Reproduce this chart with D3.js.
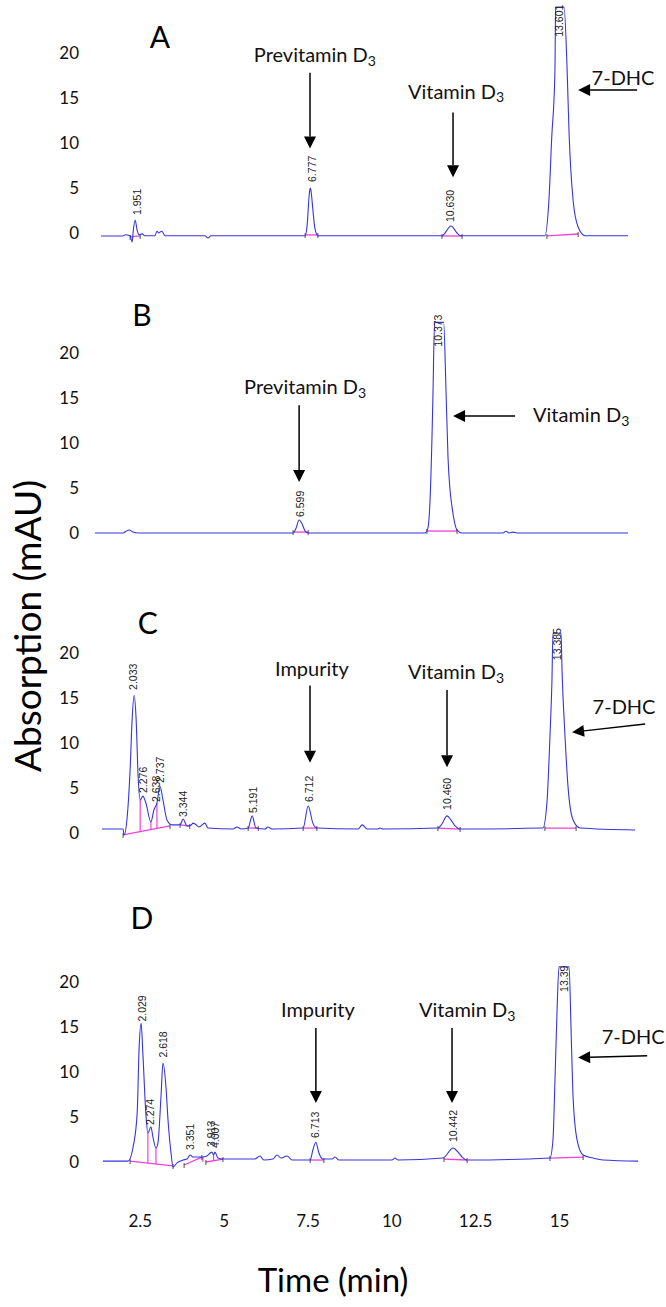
<!DOCTYPE html>
<html><head><meta charset="utf-8">
<script src="https://cdn.jsdelivr.net/npm/d3@7"></script>
<style>body{margin:0;background:#fff} svg{display:block}</style>
</head><body>
<script>
// ---------- DATA ----------
const xTicks = [2.5, 5, 7.5, 10, 12.5, 15];
const yTicks = [0, 5, 10, 15, 20];
const panelNames = ["A", "B", "C", "D"];

// chromatogram traces: [time (min, axis units), absorbance (mAU)]
const traceA = [[1.34,-0.33],[2.00,-0.33],[2.06,-0.2],[2.21,-0.3],[2.27,-1.0],[2.30,0.1],[2.36,1.45],[2.42,0.3],[2.48,-0.2],[2.57,-0.1],[2.65,-0.3],[2.95,-0.3],[3.01,0.2],[3.07,0.0],[3.10,0.1],[3.16,0.2],[3.25,-0.3],[4.44,-0.3],[4.53,-0.55],[4.62,-0.3],[7.43,-0.3],[7.49,0.9],[7.55,4.2],[7.58,5.0],[7.60,4.8],[7.66,2.6],[7.72,0.55],[7.81,-0.3],[11.51,-0.3],[11.78,0.78],[11.96,0],[12.05,-0.3],[14.58,-0.3],[14.70,3.67],[14.79,11.1],[14.85,14.8],[14.88,18.4],[14.89,22.2],[14.90,25.1],[15.15,25.1],[15.24,18.4],[15.30,11.1],[15.42,3.67],[15.57,0.67],[15.78,-0.3],[17.06,-0.3]];
const traceB = [[1.16,0],[2.00,0],[2.09,0.2],[2.18,0.33],[2.30,0.1],[2.45,0],[7.07,0],[7.16,0.55],[7.25,1.45],[7.34,1.0],[7.43,0.2],[7.52,0],[11.00,0],[11.09,0.55],[11.15,3.3],[11.21,10.3],[11.24,15.1],[11.29,23.4],[11.56,23.4],[11.63,15.9],[11.69,8.4],[11.75,4.8],[11.81,2.9],[11.96,0.33],[12.11,0],[13.33,0],[13.42,0.2],[13.51,0],[13.63,0.1],[13.75,0],[17.06,0]];
const traceC = [[1.37,0.44],[2.00,0.44],[2.03,-0.22],[2.12,1.67],[2.21,7.0],[2.27,12.6],[2.33,15.3],[2.39,12.6],[2.45,6.2],[2.51,3.67],[2.59,4.1],[2.68,3.33],[2.83,1.22],[2.92,2.56],[3.01,3.33],[3.10,5.2],[3.19,3.67],[3.31,1.44],[3.46,0.9],[3.70,0.9],[3.79,1.55],[3.91,0.78],[4.03,0.9],[4.09,1.1],[4.15,1.0],[4.26,0.67],[4.44,1.1],[4.53,0.55],[5.28,0.44],[5.40,0.67],[5.52,0.44],[5.73,0.55],[5.85,1.9],[5.96,0.55],[6.23,0.44],[6.32,0.67],[6.44,0.44],[7.37,0.55],[7.52,3.0],[7.66,1.1],[7.78,0.55],[9.01,0.44],[9.13,0.9],[9.28,0.44],[9.60,0.44],[9.66,0.55],[9.75,0.44],[11.39,0.55],[11.51,1.0],[11.66,1.9],[11.78,1.44],[11.90,0.78],[12.05,0.44],[14.52,0.55],[14.64,3.33],[14.73,10.7],[14.79,17.0],[14.82,22.2],[15.06,22.2],[15.09,18.1],[15.18,10.7],[15.27,5.1],[15.42,1.44],[15.63,0.55],[17.27,0.33]];
const traceD = [[1.40,0.1],[2.15,0.1],[2.30,1.67],[2.42,5.4],[2.48,12.8],[2.54,15.4],[2.59,12.1],[2.68,5.4],[2.74,3.2],[2.83,3.9],[2.89,2.8],[2.98,1.55],[3.04,2.1],[3.13,7.2],[3.19,11.0],[3.28,8.3],[3.34,4.7],[3.43,1.0],[3.49,-0.55],[3.61,-0.1],[3.79,0.22],[3.91,0.33],[4.00,0.78],[4.09,0.55],[4.38,0.55],[4.50,0.67],[4.65,1.1],[4.70,0.78],[4.74,1.1],[4.83,0.44],[4.98,0.33],[5.93,0.33],[6.08,0.67],[6.20,0.22],[6.47,0.33],[6.59,0.78],[6.71,0.44],[6.89,0.67],[7.04,0.22],[7.58,0.22],[7.66,1.33],[7.75,2.2],[7.84,1.0],[7.96,0.33],[8.23,0.33],[8.32,0.55],[8.44,0.22],[10.02,0.22],[10.11,0.44],[10.20,0.22],[11.54,0.44],[11.84,1.55],[11.99,1.1],[12.11,0.55],[12.26,0.22],[14.73,0.44],[14.82,2.44],[14.88,9.1],[14.94,16.6],[15.00,21.7],[15.30,21.7],[15.36,14.7],[15.42,7.2],[15.54,2.44],[15.72,0.78],[16.02,0.44],[16.31,0.22],[17.36,0.1]];

// retention-time labels: [text, time, absorbance at label's lower end]
const peaksA = [["1.951",2.42,2.0],["6.777",7.63,5.67],["10.630",11.75,1.22],["13.601",15.0,21.8]];
const peaksB = [["6.599",7.28,1.78],["10.373",11.39,20.7]];
const peaksC = [["2.033",2.30,15.9],["2.276",2.59,4.44],["2.638",2.98,3.44],["2.737",3.10,5.56],["3.344",3.79,1.78],["5.191",5.88,2.22],["6.712",7.55,3.44],["10.460",11.66,2.56],["13.385",14.94,19.2]];
const peaksD = [["2.029",2.56,15.6],["2.274",2.80,4.1],["2.618",3.19,11.6],["3.351",4.00,1.33],["3.913",4.62,1.67],["4.007",4.74,1.55],["6.713",7.72,2.67],["10.442",11.84,2.22],["13.39",15.15,18.9]];

// integration baselines: [t1, v1, t2, v2]
const integA = [[2.21,-0.44,2.51,-0.33],[7.43,-0.22,7.81,-0.22],[11.51,-0.33,12.11,-0.33],[14.64,-0.33,15.57,-0.11]];
const integB = [[7.07,0.1,7.52,0.1],[11.06,0.22,11.96,0.22]];
const integC = [[2.00,-0.22,3.40,0.78],[3.70,0.9,3.99,0.78],[5.73,0.55,6.03,0.55],[7.37,0.55,7.78,0.55],[11.39,0.55,12.05,0.44],[14.58,0.55,15.51,0.55]];
const integD = [[2.21,0.1,3.49,-0.44],[3.82,-0.33,4.35,0.55],[4.47,0,4.98,0.33],[7.58,0.22,7.99,0.22],[11.57,0.33,12.26,0.22],[14.73,0.44,15.72,0.55]];
// peak-split drop lines: [t, vTop, vBottom]
const dropsC = [[2.51,3.67,0.14],[2.83,1.22,0.37],[3.01,3.33,0.5]];
const dropsD = [[2.74,3.2,-0.12],[2.98,1.55,-0.22],[4.38,0.55,0],[4.70,0.78,0.16]];

// annotations: text, subscript, centre [t,v], arrow from [t,v] to tip [t,v]
const annA = [
  {text:"Previtamin D", sub:"3", at:[7.72,19.8], from:[7.575,17.8], to:[7.575,9.4]},
  {text:"Vitamin D", sub:"3", at:[11.93,15.7], from:[11.84,13.4], to:[11.84,6.2]},
  {text:"7-DHC", sub:"", at:[16.91,17.2], from:[17.33,15.9], to:[15.57,15.9]}
];
const annB = [
  {text:"Previtamin D", sub:"3", at:[7.43,16.2], from:[7.25,14.2], to:[7.25,5.67]},
  {text:"Vitamin D", sub:"3", at:[15.66,13.1], from:[13.69,13.0], to:[11.84,13.0]}
];
const annC = [
  {text:"Impurity", sub:"", at:[7.63,18.3], from:[7.575,16.4], to:[7.575,7.8]},
  {text:"Vitamin D", sub:"3", at:[11.93,17.9], from:[11.66,15.9], to:[11.66,7.3]},
  {text:"7-DHC", sub:"", at:[16.94,14.0], from:[17.57,12.1], to:[15.39,11.2]}
];
const annD = [
  {text:"Impurity", sub:"", at:[7.81,16.9], from:[7.75,14.9], to:[7.75,6.56]},
  {text:"Vitamin D", sub:"3", at:[12.26,16.9], from:[11.81,14.9], to:[11.81,6.56]},
  {text:"7-DHC", sub:"", at:[17.21,13.9], from:[17.63,11.8], to:[15.57,11.6]}
];
const letterPos = [[3.10,21.8],[2.56,24.2],[2.74,23.3],[2.56,27.1]];

// ---------- DRAW ----------
const W = 666, H = 1307;
const FONT = "Lato, 'Open Sans', sans-serif";
const svg = d3.select("body").append("svg").attr("width", W).attr("height", H)
  .style("background", "#fff");

const x = d3.scaleLinear().domain([0, 15]).range([56, 559]);
const zeroPx = [233, 533, 833, 1162];
const panels = [
  {trace: traceA, peaks: peaksA, integ: integA, drops: [], ann: annA},
  {trace: traceB, peaks: peaksB, integ: integB, drops: [], ann: annB},
  {trace: traceC, peaks: peaksC, integ: integC, drops: dropsC, ann: annC},
  {trace: traceD, peaks: peaksD, integ: integD, drops: dropsD, ann: annD}
];

panels.forEach((p, i) => {
  const y = d3.scaleLinear().domain([0, 20]).range([zeroPx[i], zeroPx[i] - 180]);
  const g = svg.append("g");

  // y axis labels
  const ya = g.append("g").attr("transform", "translate(80,0)")
    .call(d3.axisLeft(y).tickValues(yTicks).tickSize(0).tickPadding(1));
  ya.select(".domain").remove();
  ya.selectAll("text").attr("font-family", FONT).attr("font-size", 17).attr("fill", "#111");

  // integration baselines
  g.selectAll(".integ").data(p.integ).join("line")
    .attr("x1", d => x(d[0])).attr("y1", d => y(d[1]))
    .attr("x2", d => x(d[2])).attr("y2", d => y(d[3]))
    .attr("stroke", "#f040d8").attr("stroke-width", 1.3);
  g.selectAll(".drop").data(p.drops).join("line")
    .attr("x1", d => x(d[0])).attr("y1", d => y(d[1]))
    .attr("x2", d => x(d[0])).attr("y2", d => y(d[2]))
    .attr("stroke", "#f040d8").attr("stroke-width", 1.2);
  // tiny peak start/end ticks
  const ends = p.integ.flatMap(d => [[d[0], d[1]], [d[2], d[3]]]);
  g.selectAll(".tk").data(ends).join("line")
    .attr("x1", d => x(d[0])).attr("x2", d => x(d[0]))
    .attr("y1", d => y(d[1]) - 2).attr("y2", d => y(d[1]) + 3)
    .attr("stroke", "#222").attr("stroke-width", 0.8);

  // trace
  g.append("path").datum(p.trace)
    .attr("d", d3.line().x(d => x(d[0])).y(d => y(d[1])).curve(d3.curveMonotoneX))
    .attr("fill", "none").attr("stroke", "#3535dd").attr("stroke-width", 1.1);

  // retention time labels
  g.selectAll(".pk").data(p.peaks).join("text")
    .attr("transform", d => `translate(${x(d[1])},${y(d[2])}) rotate(-90)`)
    .attr("dy", "0.35em").attr("text-anchor", "start")
    .attr("font-family", "'Liberation Sans', Arial, sans-serif").attr("font-size", 10.5)
    .attr("fill", "#222").text(d => d[0]);

  // panel letter
  g.append("text").attr("x", x(letterPos[i][0])).attr("y", y(letterPos[i][1]))
    .attr("dy", "0.36em").attr("text-anchor", "middle")
    .attr("font-family", FONT).attr("font-size", 30).attr("fill", "#000")
    .text(panelNames[i]);

  // annotations
  p.ann.forEach(a => {
    const t = g.append("text").attr("x", x(a.at[0])).attr("y", y(a.at[1]))
      .attr("dy", "0.36em").attr("text-anchor", "middle")
      .attr("font-family", FONT).attr("font-size", 20).attr("fill", "#111");
    t.append("tspan").text(a.text);
    if (a.sub) t.append("tspan").attr("font-size", 14).attr("dy", "0.25em").text(a.sub);
    const x1 = x(a.from[0]), y1 = y(a.from[1]), x2 = x(a.to[0]), y2 = y(a.to[1]);
    const ang = Math.atan2(y2 - y1, x2 - x1), L = 12, hw = 6;
    const bx = x2 - L * Math.cos(ang), by = y2 - L * Math.sin(ang);
    g.append("line").attr("x1", x1).attr("y1", y1).attr("x2", bx).attr("y2", by)
      .attr("stroke", "#000").attr("stroke-width", 1.5);
    g.append("path")
      .attr("d", `M${x2},${y2}L${bx - hw * Math.sin(ang)},${by + hw * Math.cos(ang)}L${bx + hw * Math.sin(ang)},${by - hw * Math.cos(ang)}Z`)
      .attr("fill", "#000");
  });
});

// x axis labels
const xa = svg.append("g").attr("transform", "translate(0,1215)")
  .call(d3.axisBottom(x).tickValues(xTicks).tickSize(0).tickPadding(0).tickFormat(d3.format("")));
xa.select(".domain").remove();
xa.selectAll("text").attr("font-family", FONT).attr("font-size", 17).attr("fill", "#111");

// axis titles
svg.append("text").attr("x", 333).attr("y", 1280).attr("dy", "0.35em").attr("text-anchor", "middle")
  .attr("font-family", FONT).attr("font-size", 33).attr("fill", "#000").text("Time (min)");
svg.append("text").attr("transform", "translate(28,626) rotate(-90)").attr("dy", "0.35em")
  .attr("text-anchor", "middle").attr("font-family", FONT).attr("font-size", 37).attr("fill", "#000")
  .text("Absorption (mAU)");
</script>
</body></html>
